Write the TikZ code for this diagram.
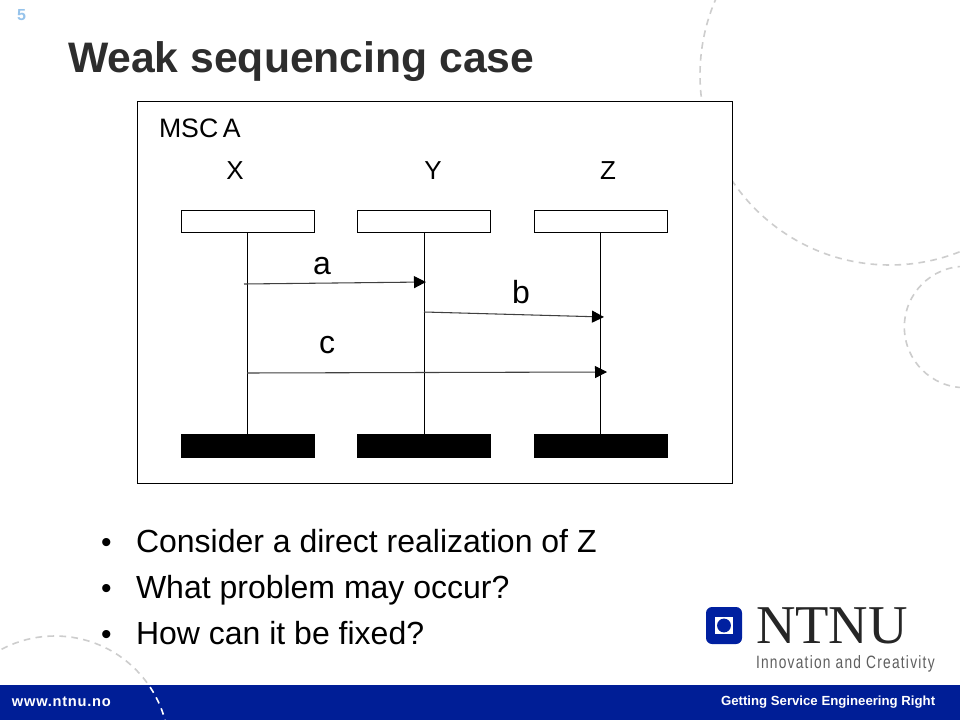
\documentclass[tikz,border=0pt]{standalone}
\usepackage{fontspec}
\setmainfont{Liberation Sans}
\newfontfamily\serifntnu{Liberation Serif}
\usetikzlibrary{arrows.meta}
\definecolor{barblue}{RGB}{0,30,150}
\definecolor{logoblue}{RGB}{0,32,160}
\definecolor{dashgray}{RGB}{205,205,205}
\definecolor{numblue}{RGB}{150,195,235}
\definecolor{logogray}{RGB}{95,95,95}
\definecolor{titlegray}{RGB}{45,45,45}
\newcommand{\fs}[1]{\fontsize{#1}{#1}\selectfont}
\tikzset{
  txt/.style={anchor=base west,inner sep=0pt,outer sep=0pt,text=black},
  ctxt/.style={anchor=base,inner sep=0pt,outer sep=0pt,text=black},
  ring/.style={dashgray,line width=1.2pt,dash pattern=on 5pt off 4pt},
  headbox/.style={draw=black,fill=white,line width=0.75pt,minimum width=99.75pt,minimum height=17pt,inner sep=0pt},
  footbox/.style={fill=black,minimum width=100pt,minimum height=18pt,inner sep=0pt},
  lifeline/.style={black,line width=0.75pt},
  msg/.style={line width=0.8pt,draw=black!75,-{Triangle[length=9pt,width=9pt,black]}},
}
\begin{document}
\begin{tikzpicture}[x=0.75pt,y=-0.75pt]
\useasboundingbox (0,0) rectangle (960,720);
\fill[white] (0,0) rectangle (960,720);
% decorative circles
\draw[ring] (890,75) circle [radius=142.5pt];
\draw[ring] (965,327) circle [radius=45.5pt];
\draw[ring] (55,750) circle [radius=85.5pt];
% bar
\fill[barblue] (0,685) rectangle (960,720);
\begin{scope}
\clip (0,685) rectangle (960,720);
\draw[white,line width=1.2pt,dash pattern=on 5pt off 4pt] (55,750) circle [radius=85.5pt];
\end{scope}
% slide number and title
\node[txt,text=numblue,font=\bfseries\fs{12}] (num) at (17,21) {5};
\node[txt,text=titlegray,font=\bfseries\fs{32}] (title) at (68,73) {Weak sequencing case};
% frame
\node[draw=black,fill=white,line width=0.75pt,minimum width=446.6pt,minimum height=287pt,inner sep=0pt] (frame) at (434.8,292.5) {};
\node[txt,font=\fs{20}] (msc) at (159,138) {MSC\hspace{-2pt} A};
\node[ctxt,font=\fs{19.5}] (lx) at (235,180) {X};
\node[ctxt,font=\fs{19.5}] (ly) at (433,180) {Y};
\node[ctxt,font=\fs{19.5}] (lz) at (608,180) {Z};
% instance heads and feet
\node[headbox] (hx) at (247.5,221.5) {};
\node[headbox] (hy) at (424,221.5) {};
\node[headbox] (hz) at (600.5,221.5) {};
\node[footbox] (fx) at (248,446) {};
\node[footbox] (fy) at (424,446) {};
\node[footbox] (fz) at (601,446) {};
\draw[lifeline] (hx.south) -- (hx.south |- fx.north);
\draw[lifeline] (hy.south) -- (hy.south |- fy.north);
\draw[lifeline] (hz.south) -- (hz.south |- fz.north);
% messages
\coordinate (as) at (244,284);
\coordinate (ae) at (426,282);
\coordinate (bs) at (424,312);
\coordinate (be) at (604,317);
\coordinate (cs) at (247,373);
\coordinate (ce) at (607,372);
\draw[msg] (as) -- (ae);
\draw[msg] (bs) -- (be);
\draw[msg] (cs) -- (ce);
\node[ctxt,font=\fs{24}] (la) at (322,275) {a};
\node[ctxt,font=\fs{24}] (lb) at (521,303) {b};
\node[ctxt,font=\fs{24}] (lc) at (327,353) {c};
% bullets
\node[txt,font=\fs{22.5}] (b1d) at (101,552) {•};
\node[txt,font=\fs{24}] (b1) at (136,552) {Consider a direct realization of Z};
\node[txt,font=\fs{22.5}] (b2d) at (101,598) {•};
\node[txt,font=\fs{24}] (b2) at (136,598) {What problem may occur?};
\node[txt,font=\fs{22.5}] (b3d) at (101,644) {•};
\node[txt,font=\fs{24}] (b3) at (136,644) {How can it be fixed?};
% logo
\fill[logoblue,rounded corners=4.5pt] (706,607) rectangle (742,644);
\fill[white] (715,617) rectangle (733,634);
\fill[logoblue] (724,625.5) circle [radius=5.2pt];
\node[txt,text=black!85,font=\serifntnu\fs{41}] (ntnu) at (756,643) {NTNU};
\node[txt,text=logogray,font=\addfontfeature{LetterSpace=9}\fs{13.4}] (innov) at (756,668) {\scalebox{0.77}[1]{Innovation and Creativity}};
% footer text
\node[txt,text=white,font=\bfseries\addfontfeature{LetterSpace=5}\fs{11}] (url) at (12,706) {www.ntnu.no};
\node[txt,text=white,font=\bfseries\fs{9.9}] (slogan) at (721,705) {Getting Service Engineering Right};
\end{tikzpicture}
\end{document}
